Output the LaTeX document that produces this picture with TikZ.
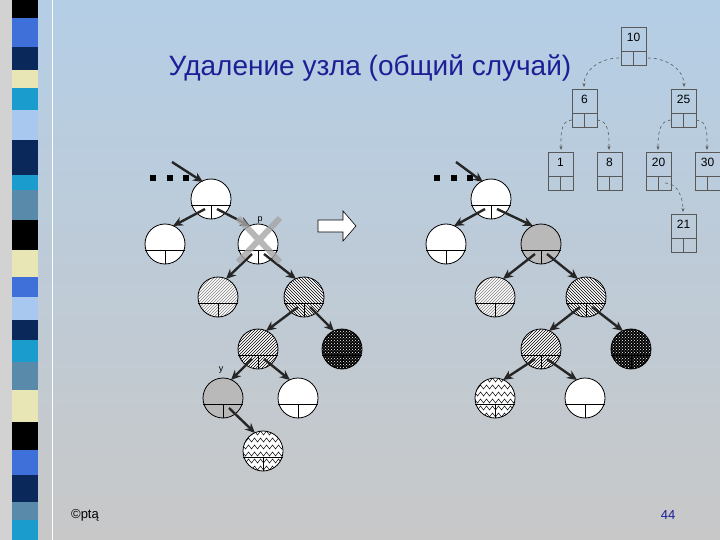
\documentclass[tikz,border=0pt]{standalone}
\usepackage{fontspec}
\setmainfont{Liberation Sans}
\usetikzlibrary{patterns,arrows.meta,decorations.pathmorphing,calc}
\begin{document}
\begin{tikzpicture}[x=1pt,y=-1pt,
  edge/.style={-{Stealth[length=10pt,width=9pt]},line width=2.4pt,black!85},
  lnk/.style={-{Stealth[length=4pt]},gray!70!black,dashed,line width=0.6pt},
  bx/.style={draw=gray!70!black,line width=0.6pt}]
\useasboundingbox (0,0) rectangle (720,540);
\shade[top color={rgb,255:red,180;green,206;blue,230},bottom color={rgb,255:red,200;green,200;blue,200}] (0,0) rectangle (720,540);
\fill[gray!35] (0,0) rectangle (12,540);
\draw[white,line width=1pt] (52,0)--(52,540);
\foreach \a/\b/\c in {0/18/black,18/47/{rgb,255:red,63;green,111;blue,216},47/70/{rgb,255:red,10;green,40;blue,90},70/88/{rgb,255:red,232;green,230;blue,180},88/110/{rgb,255:red,26;green,156;blue,204},110/140/{rgb,255:red,168;green,200;blue,240},140/175/{rgb,255:red,10;green,40;blue,90},175/190/{rgb,255:red,26;green,156;blue,204},190/220/{rgb,255:red,90;green,138;blue,170},220/250/black,250/277/{rgb,255:red,232;green,230;blue,180},277/297/{rgb,255:red,63;green,111;blue,216},297/320/{rgb,255:red,168;green,200;blue,240},320/340/{rgb,255:red,10;green,40;blue,90},340/362/{rgb,255:red,26;green,156;blue,204},362/390/{rgb,255:red,90;green,138;blue,170},390/422/{rgb,255:red,232;green,230;blue,180},422/450/black,450/475/{rgb,255:red,63;green,111;blue,216},475/502/{rgb,255:red,10;green,40;blue,90},502/520/{rgb,255:red,90;green,138;blue,170},520/540/{rgb,255:red,26;green,156;blue,204}}
  \fill[color=\c] (12,\a) rectangle (38,\b);
\node[text={rgb,255:red,30;green,30;blue,150},font=\fontsize{28}{32}\selectfont] (title) at (370,68) {Удаление узла (общий случай)};
\node[font=\fontsize{13}{15}\selectfont] (copy) at (85,515) {©ptą};
\node[text={rgb,255:red,30;green,30;blue,150},font=\fontsize{13}{15}\selectfont] (pg) at (668,515) {44};
\newcommand{\tn}[3]{%
  \coordinate (#1) at #2;
  \begin{scope}\clip #2 circle (20);\path[#3] #2 circle (20);\end{scope}
  \draw[line width=0.8pt] #2 circle (20);
  \draw[line width=0.8pt] ($#2+(-20,6)$) -- ++(40,0) ($#2+(0,6)$) -- ++(0,14);}
\tikzset{
 wh/.style={fill=white},
 gy/.style={fill=gray!55},
 lh/.style={fill=white,postaction={pattern=north east lines,pattern color=gray}},
 dh/.style={fill=white,postaction={pattern=north west lines}},
 ch/.style={fill=white,postaction={pattern=north east lines}},
 dt/.style={fill=black,postaction={pattern=crosshatch dots,pattern color=white}}}
\newcommand{\waves}[2]{\coordinate (#1) at #2;
 \begin{scope}\clip #2 circle (20); \fill[white] #2 circle (20);
 \foreach \k in {-18,-11,...,20}{\draw[decorate,decoration={zigzag,segment length=6pt,amplitude=2pt},line width=0.5pt] ($#2+(-22,\k)$)--++(44,0);}\end{scope}
 \draw[line width=0.8pt] #2 circle (20);
 \draw[line width=0.8pt] ($#2+(-20,6)$) -- ++(40,0) ($#2+(0,6)$) -- ++(0,14);}
% left tree
\tn{a1}{(211,199)}{wh}
\tn{a2}{(165,244)}{wh}
\tn{a3}{(258,244)}{wh}
\tn{a4}{(218,297)}{lh}
\tn{a5}{(304,297)}{dh}
\tn{a6}{(258,349)}{ch}
\tn{a7}{(342,349)}{dt}
\tn{a8}{(223,398)}{gy}
\tn{a9}{(298,398)}{wh}
\waves{a10}{(263,451)}
\foreach \p/\c/\s in {a1/a2/-1,a1/a3/1,a3/a4/-1,a3/a5/1,a5/a6/-1,a5/a7/1,a6/a8/-1,a6/a9/1,a8/a10/1}
  \draw[edge] ($(\p)+(\s*6,10)$) -- ($(\c)+(-\s*8,-18)$);
\draw[gray!70,line width=6pt,opacity=0.8] (238,218)--(280,262) (280,218)--(238,262);
\node[font=\small] (pl) at (260,220) {p};
\node[font=\small] (yl) at (221,370) {y};
\foreach \x in {153,170,186} \fill (\x-3,175) rectangle (\x+3,181);
\coordinate (d1) at (172,162); \draw[edge] (d1) -- ($(a1)+(-8,-17)$);
% block arrow
\coordinate (ar) at (318,220);
\draw[fill=white,line width=0.6pt] (ar) -- ++(25,0) -- ++(0,-9) -- ++(13,15) -- ++(-13,15) -- ++(0,-9) -- ++(-25,0) -- cycle;
% right tree
\tn{b1}{(491,199)}{wh}
\tn{b2}{(446,244)}{wh}
\tn{b3}{(541,244)}{gy}
\tn{b4}{(495,297)}{lh}
\tn{b5}{(586,297)}{dh}
\tn{b6}{(541,349)}{ch}
\tn{b7}{(631,349)}{dt}
\waves{b8}{(495,398)}
\tn{b9}{(585,398)}{wh}
\foreach \p/\c/\s in {b1/b2/-1,b1/b3/1,b3/b4/-1,b3/b5/1,b5/b6/-1,b5/b7/1,b6/b8/-1,b6/b9/1}
  \draw[edge] ($(\p)+(\s*6,10)$) -- ($(\c)+(-\s*8,-18)$);
\foreach \x in {437,454,470} \fill (\x-3,175) rectangle (\x+3,181);
\coordinate (d2) at (456,162); \draw[edge] (d2) -- ($(b1)+(-8,-17)$);
% top right BST
\newcommand{\bn}[4]{%
  \draw[bx] (#2,#3) rectangle ++(25,38);
  \draw[bx] (#2,#3+24) -- ++(25,0) (#2+12.5,#3+24) -- ++(0,14);
  \node[font=\fontsize{12}{14}\selectfont,inner sep=1pt] (#1) at (#2+12.5,#3+10) {#4};}
\bn{n10}{621}{27}{10}
\bn{n6}{572}{89}{6}
\bn{n25}{671}{89}{25}
\bn{n1}{548}{152}{1}
\bn{n8}{597}{152}{8}
\bn{n20}{646}{152}{20}
\bn{n30}{695}{152}{30}
\bn{n21}{671}{214}{21}
\draw[lnk] (619,58) to[out=180,in=90] (584,87);
\draw[lnk] (648,58) to[out=0,in=90] (684,87);
\draw[lnk] (572,120) to[out=180,in=90] (561,150);
\draw[lnk] (597,120) to[out=0,in=90] (609,150);
\draw[lnk] (671,120) to[out=180,in=90] (658,150);
\draw[lnk] (696,120) to[out=0,in=90] (707,150);
\draw[lnk] (665,183) to[out=0,in=90] (683,212);
\end{tikzpicture}
\end{document}
